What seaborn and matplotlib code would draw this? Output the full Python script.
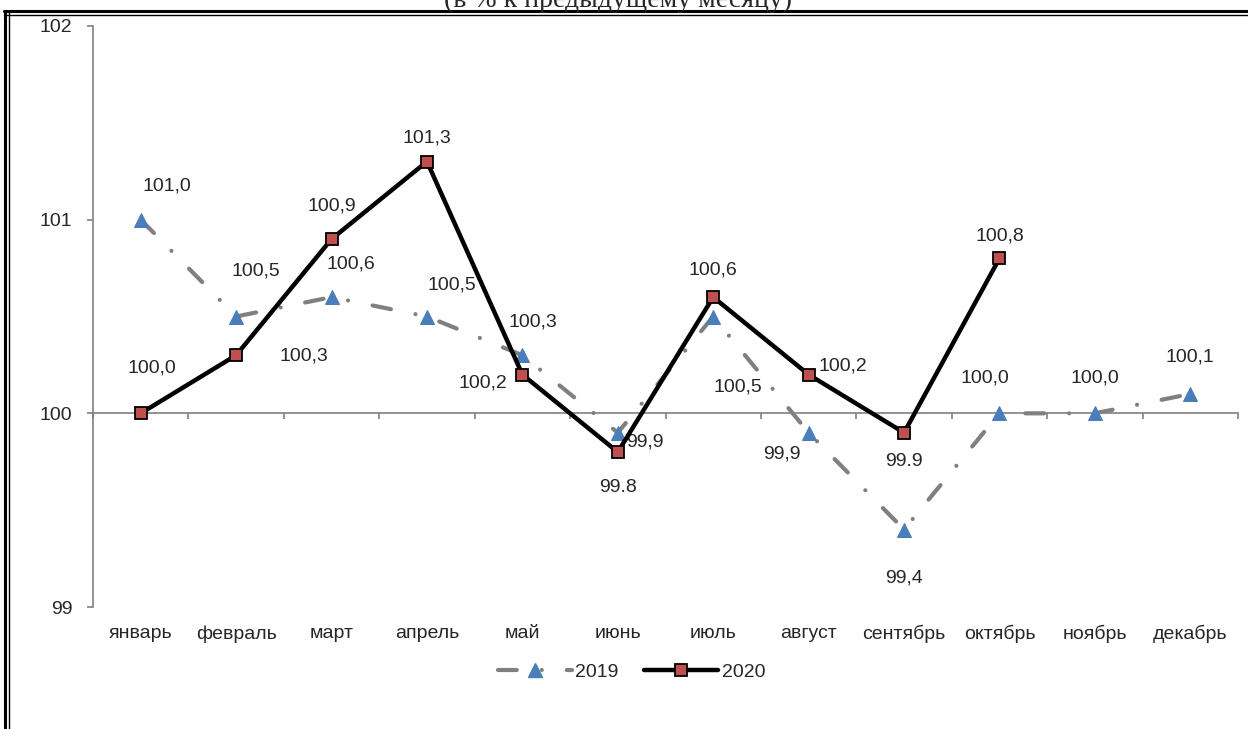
import numpy as np
import pandas as pd
import seaborn as sns
import matplotlib.pyplot as plt
from matplotlib.lines import Line2D

months = ['январь', 'февраль', 'март', 'апрель', 'май', 'июнь', 'июль',
          'август', 'сентябрь', 'октябрь', 'ноябрь', 'декабрь']
v2019 = [101.0, 100.5, 100.6, 100.5, 100.3, 99.9, 100.5, 99.9, 99.4, 100.0, 100.0, 100.1]
v2020 = [100.0, 100.3, 100.9, 101.3, 100.2, 99.8, 100.6, 100.2, 99.9, 100.8]
lab2019 = ['101,0', '100,5', '100,6', '100,5', '100,3', '99,9', '100,5', '99,9', '99,4',
           '100,0', '100,0', '100,1']
lab2020 = ['100,0', '100,3', '100,9', '101,3', '100,2', '99.8', '100,6', '100,2', '99.9', '100,8']

# label offsets in pixels (dx, dy up)
off2019 = [(26, 34), (20, 45), (19, 33), (25, 32), (11, 33), (27, -9), (25, -71),
           (-27, -21), (0, -48), (-15, 35), (0, 35), (0, 37)]
off2020 = [(11, 45), (68, -1), (0, 33), (0, 24), (-40, -8), (0, -35), (0, 27),
           (34, 9), (0, -29), (0, 22)]

df19 = pd.DataFrame({'x': np.arange(len(v2019)), 'y': v2019})
df20 = pd.DataFrame({'x': np.arange(len(v2020)), 'y': v2020})

sns.set_style('white')
plt.rcParams['font.family'] = ['Liberation Sans', 'DejaVu Sans']

fig = plt.figure(figsize=(12.48, 7.29), dpi=100)
ax = fig.add_axes([93 / 1248, 1 - 607 / 729, (1238 - 93) / 1248, (607 - 26) / 729])

grey = '#808080'
blue = '#4a7ebb'
red = '#c0504d'
dash19 = (0, (4.5, 6, 0.01, 6))
fs = 14

sns.lineplot(data=df19, x='x', y='y', ax=ax, color=grey, lw=3,
             linestyle=dash19, dash_capstyle='round',
             marker='^', markersize=10, markerfacecolor=blue, markeredgecolor=blue,
             sort=False, zorder=3)
sns.lineplot(data=df20, x='x', y='y', ax=ax, color='black', lw=3.2,
             marker='s', markersize=9, markerfacecolor=red, markeredgecolor='black',
             markeredgewidth=1.3, sort=False, zorder=4)

for i, (v, t) in enumerate(zip(v2019, lab2019)):
    ax.annotate(t, (i, v), xytext=(off2019[i][0] * 0.72, off2019[i][1] * 0.72),
                textcoords='offset points', ha='center', va='center', fontsize=fs)
for i, (v, t) in enumerate(zip(v2020, lab2020)):
    ax.annotate(t, (i, v), xytext=(off2020[i][0] * 0.72, off2020[i][1] * 0.72),
                textcoords='offset points', ha='center', va='center', fontsize=fs)

ax.set_xlim(-0.5, len(months) - 0.5)
ax.set_ylim(99, 102)
ax.set_yticks([99, 100, 101, 102])
ax.set_yticklabels(['99', '100', '101', '102'])
ax.set_xticks(np.arange(len(months)))
ax.set_xticklabels(months)
ax.set_xlabel('')
ax.set_ylabel('')
ax.tick_params(axis='x', length=0, pad=13, labelsize=fs)
ax.tick_params(axis='y', left=True, length=4, width=1.2, color=grey, pad=11, labelsize=fs)
for s in ['top', 'right', 'bottom']:
    ax.spines[s].set_visible(False)
ax.spines['left'].set_color(grey)
ax.spines['left'].set_linewidth(1.2)

# category axis crossing at 100
sec = ax.secondary_xaxis(1 / 3)
sec.set_xticks(np.arange(len(months) + 1) - 0.5)
sec.tick_params(direction='out', length=4, width=1.2, color=grey, labelbottom=False,
                labeltop=False, bottom=True, top=False)
sec.spines['bottom'].set_color(grey)
sec.spines['bottom'].set_linewidth(1.2)
sec.spines['top'].set_visible(False)

handles = [Line2D([], [], color=grey, lw=3, linestyle=dash19,
                  dash_capstyle='round', marker='^', markersize=10,
                  markerfacecolor=blue, markeredgecolor=blue),
           Line2D([], [], color='black', lw=3.2, marker='s', markersize=9,
                  markerfacecolor=red, markeredgecolor='black', markeredgewidth=1.3)]
fig.legend(handles, ['2019', '2020'], loc='center', bbox_to_anchor=(0.506, 0.078),
           ncol=2, frameon=False, fontsize=fs, handlelength=3.8, columnspacing=1.3,
           handletextpad=0.2)

# cut title and frame
fig.text(0.495, 1.0, '(в % к предыдущему месяцу)', ha='center', va='center',
         fontsize=20, family='Liberation Serif')
for y0, w in [(1 - 11 / 729, 2.2), (1 - 14.5 / 729, 1.0)]:
    fig.add_artist(Line2D([4 / 1248, 1], [y0, y0], color='black', lw=w))
for x0, w in [(4.5 / 1248, 2.2), (8.5 / 1248, 1.0)]:
    fig.add_artist(Line2D([x0, x0], [0, 1 - 11 / 729], color='black', lw=w))

fig.savefig('out.png', dpi=100)
